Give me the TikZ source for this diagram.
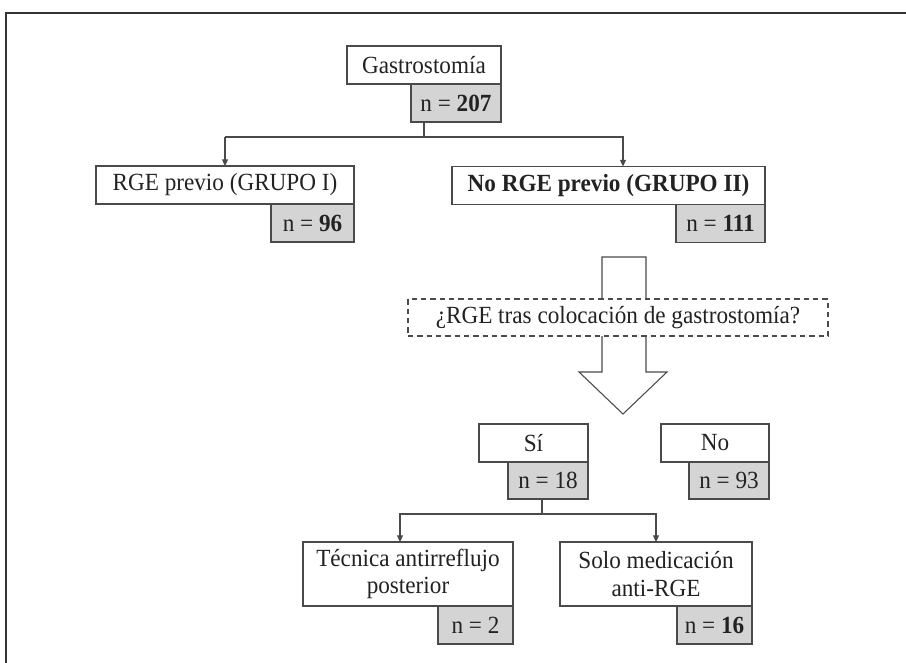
\documentclass[tikz,border=0pt]{standalone}
\usepackage{fontspec}
\setmainfont{Liberation Serif}[FakeStretch=0.94]
\usetikzlibrary{arrows.meta}
\definecolor{ln}{HTML}{4A4A4A}
\definecolor{gr}{HTML}{D4D4D4}
\definecolor{tx}{HTML}{222222}
\definecolor{fr}{HTML}{333333}
\begin{document}
\begin{tikzpicture}[x=0.75pt,y=-0.75pt,
  every node/.style={font=\fontsize{18.5}{20.5}\selectfont, text=tx},
  bx/.style={draw=ln, line width=0.8pt, fill=white, inner sep=0pt, outer sep=0pt, align=center},
  nb/.style={bx, fill=gr},
  con/.style={draw=ln, line width=0.8pt},
  arr/.style={con, -{Triangle[length=5pt,width=4.5pt]}},
  bigarrow/.style={draw=ln, line width=0.8pt, fill=white},
  dbox/.style={bx, dashed, dash pattern=on 4pt off 3pt}
]
\useasboundingbox (0,0) rectangle (906,663);
\draw[line width=1pt, draw=fr] (906,13) -- (6,13) -- (6,663);

% top
\node[bx, minimum width={154*0.75pt}, minimum height={38*0.75pt}] (g) at (424,65) {Gastrostomía};
\node[nb, minimum width={90*0.75pt}, minimum height={38*0.75pt}] (g207) at (456,103) {n = \textbf{207}};

% level 2
\node[bx, minimum width={258*0.75pt}, minimum height={38*0.75pt}] (r1) at (225,185) {RGE previo (GRUPO I)};
\node[nb, minimum width={83*0.75pt}, minimum height={38*0.75pt}] (n96) at (312.5,223) {n = \textbf{96}};
\node[bx, minimum width={313*0.75pt}, minimum height={38*0.75pt}] (r2) at (608.5,185.5) {\textbf{No RGE previo (GRUPO II)}};
\node[nb, minimum width={89*0.75pt}, minimum height={38*0.75pt}] (n111) at (720.5,223.5) {n = \textbf{111}};

\coordinate (t1) at (225,137);
\coordinate (t2) at (623,137);
\draw[con] (g.south |- g207.south) -- (g.south |- t1);
\draw[arr] (t1) -- (t2 -| t1) -- (r1.north);
\draw[arr] (t1) -- (t2) -- (t2 |- r2.north);

% big arrow
\draw[bigarrow] (602,257) -- (646,257) -- (646,372) -- (667,372) -- (623,414) -- (579,372) -- (602,372) -- cycle;
\node[dbox, minimum width={420*0.75pt}, minimum height={37*0.75pt}] (q) at (618,317.5) {¿RGE tras colocación de gastrostomía?};

% level 3
\node[bx, minimum width={109*0.75pt}, minimum height={38*0.75pt}] (si) at (533.5,443) {Sí};
\node[nb, minimum width={80*0.75pt}, minimum height={37*0.75pt}] (n18) at (548,480.5) {n = 18};
\node[bx, minimum width={108*0.75pt}, minimum height={38*0.75pt}] (no) at (715,443) {No};
\node[nb, minimum width={80*0.75pt}, minimum height={37*0.75pt}] (n93) at (729,480.5) {n = 93};

% level 4
\node[bx, minimum width={210*0.75pt}, minimum height={64*0.75pt}] (tec) at (408,574) {Técnica antirreflujo\\posterior};
\node[nb, minimum width={75*0.75pt}, minimum height={38*0.75pt}] (n2) at (475.5,625) {n = 2};
\node[bx, minimum width={192*0.75pt}, minimum height={64*0.75pt}] (solo) at (656,574) {Solo medicación\\anti-RGE};
\node[nb, minimum width={75*0.75pt}, minimum height={38*0.75pt}] (n16) at (714.5,625) {n = \textbf{16}};

\coordinate (b0) at (542,514);
\coordinate (b1) at (400,514);
\coordinate (b2) at (656,514);
\draw[con] (b0 |- n18.south) -- (b0);
\draw[arr] (b0) -- (b1) -- (b1 |- tec.north);
\draw[arr] (b0) -- (b2) -- (solo.north);
\end{tikzpicture}
\end{document}
